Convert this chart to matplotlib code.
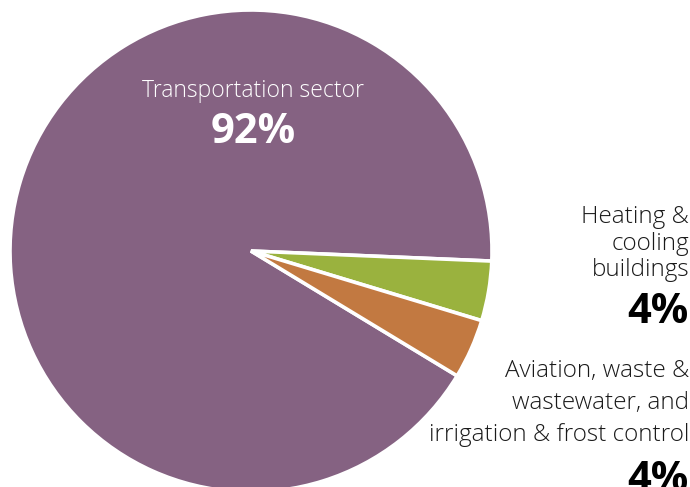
import matplotlib
matplotlib.use('Agg')
import matplotlib.pyplot as plt

# sector shares, in the order they are drawn clockwise from the top edge of the green slice
sectors = ['Transportation sector', 'Heating &\ncooling\nbuildings',
           'Aviation, waste &\nwastewater, and\nirrigation & frost control']
shares = [92, 4, 4]
colors = ['#856282', '#9ab23e', '#c27941']

W, H = 690, 487
fig = plt.figure(figsize=(W / 100, H / 100), dpi=100)
ax = fig.add_axes([0, 0, 1, 1])

# pixel rows measured from the top -> data y
def py(y):
    return H - y

ax.pie(shares, colors=colors, startangle=328.8, counterclock=False,
       center=(251, py(251)), radius=241,
       wedgeprops=dict(edgecolor='white', linewidth=2.6, joinstyle='miter'))

# pie() resets the limits, so fix the pixel frame afterwards
ax.set_xlim(0, W)
ax.set_ylim(0, H)
ax.set_aspect('equal')
ax.axis('off')

font = 'Open Sans'
label_kw = dict(fontfamily=font, fontweight='light', va='baseline')
value_kw = dict(fontfamily=font, fontweight='bold', va='baseline')


def stacked(x, baselines, text, size, color, ha):
    # one text per line so every baseline can be placed exactly
    for y, line in zip(baselines, text.split('\n')):
        ax.text(x, py(y), line, fontsize=size, color=color, ha=ha, **label_kw)


# big slice label sits inside the pie
stacked(253, [97], sectors[0], 16.5, 'white', 'center')
ax.text(253, py(143), f'{shares[0]}%', color='white', fontsize=30, ha='center', **value_kw)

# small slices are labelled on the right, right aligned
stacked(689, [223, 250, 276], sectors[1], 17.5, '#1a1a1a', 'right')
ax.text(689, py(323), f'{shares[1]}%', color='black', fontsize=30, ha='right', **value_kw)

stacked(689, [377, 409, 441], sectors[2], 17.5, '#1a1a1a', 'right')
ax.text(689, py(491), f'{shares[2]}%', color='black', fontsize=30, ha='right', **value_kw)

fig.savefig('out.png', dpi=100)
